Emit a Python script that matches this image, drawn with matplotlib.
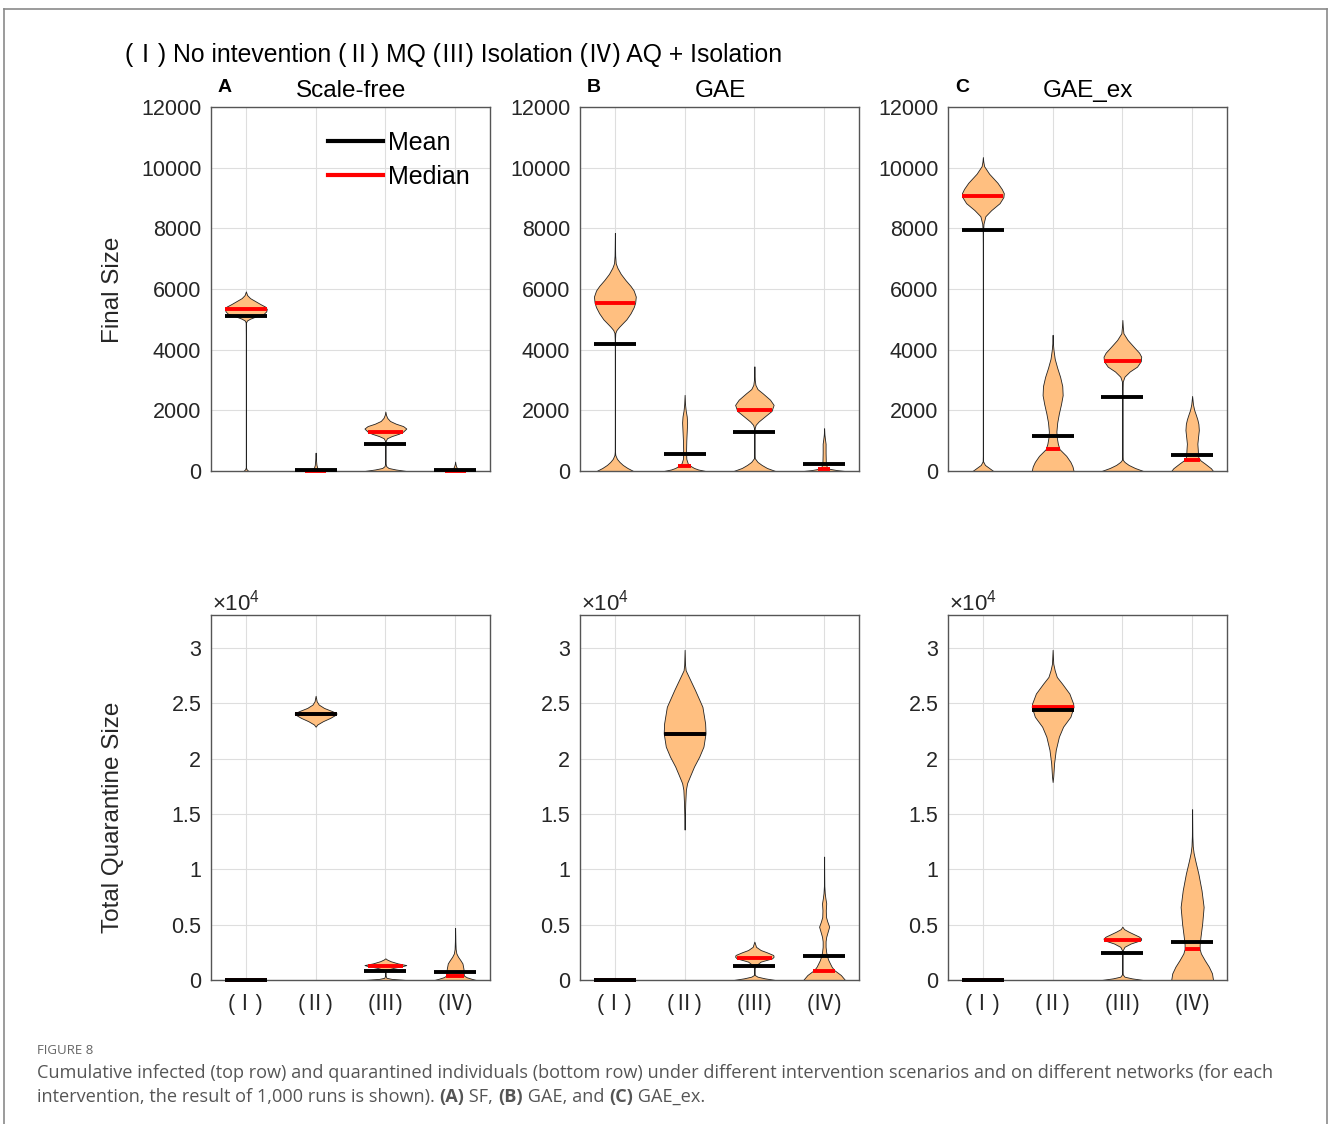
import numpy as np
import matplotlib
matplotlib.use("Agg")
import matplotlib.pyplot as plt
from matplotlib.lines import Line2D
from matplotlib.ticker import FuncFormatter

plt.rcParams['font.family'] = ['Liberation Sans', 'Noto Sans CJK SC', 'DejaVu Sans']
plt.rcParams['mathtext.fontset'] = 'custom'
plt.rcParams['mathtext.rm'] = 'Liberation Sans'

# ---------------- data ----------------
scenario_labels = ['(Ⅰ)', '(Ⅱ)', '(Ⅲ)', '(Ⅳ)']
network_names = ['Scale-free', 'GAE', 'GAE_ex']
panel_letters = ['A', 'B', 'C']
header_text = '(Ⅰ) No intevention (Ⅱ) MQ (Ⅲ) Isolation (Ⅳ) AQ + Isolation'

# Final size (top row): violin profiles as (value levels, relative half-width)
sf_final_levels = [
    [0, 60, 120, 400, 1500, 3000, 4500, 4900, 4960, 5020, 5100, 5180, 5260, 5340, 5420, 5500, 5600, 5700, 5800, 5920],
    [0, 30, 60, 100, 200, 350, 500, 605],
    [0, 50, 100, 160, 250, 500, 800, 1000, 1080, 1150, 1230, 1300, 1400, 1480, 1560, 1650, 1750, 1850, 1960],
    [0, 30, 80, 150, 220, 310],
]
sf_final_widths = [
    [0.12, 0.03, 0.005, 0.004, 0.004, 0.004, 0.005, 0.01, 0.05, 0.2, 0.5, 0.85, 0.97, 1.0, 0.92, 0.7, 0.45, 0.2, 0.06, 0],
    [0.5, 0.45, 0.2, 0.08, 0.04, 0.02, 0.01, 0],
    [1.0, 0.5, 0.15, 0.04, 0.01, 0.006, 0.006, 0.02, 0.08, 0.3, 0.65, 0.85, 1.0, 0.85, 0.5, 0.22, 0.09, 0.03, 0],
    [0.5, 0.3, 0.1, 0.05, 0.02, 0],
]
sf_final_mean = [5100, 40, 880, 20]
sf_final_median = [5350, 0, 1300, 0]

gae_final_levels = [
    [0, 100, 200, 300, 400, 530, 650, 1500, 3000, 4300, 4550, 4650, 4750, 4880, 5000, 5200, 5400, 5550, 5750, 5950, 6100, 6300, 6500, 6700, 6850, 7100, 7400, 7850],
    [0, 50, 100, 160, 250, 400, 700, 1000, 1300, 1600, 1800, 2000, 2200, 2510],
    [0, 100, 200, 300, 420, 600, 1000, 1400, 1520, 1630, 1800, 1980, 2180, 2350, 2560, 2700, 2840, 3000, 3200, 3450],
    [0, 30, 80, 150, 300, 600, 900, 1050, 1200, 1410],
]
gae_final_widths = [
    [0.88, 0.6, 0.38, 0.22, 0.1, 0.02, 0.006, 0.004, 0.004, 0.005, 0.02, 0.08, 0.2, 0.38, 0.55, 0.75, 0.9, 0.97, 1.0, 0.9, 0.75, 0.5, 0.28, 0.12, 0.04, 0.015, 0.008, 0],
    [1.0, 0.65, 0.45, 0.3, 0.15, 0.08, 0.07, 0.08, 0.1, 0.12, 0.1, 0.05, 0.02, 0],
    [1.0, 0.6, 0.35, 0.15, 0.02, 0.006, 0.006, 0.01, 0.06, 0.2, 0.5, 0.82, 0.92, 0.75, 0.4, 0.15, 0.05, 0.02, 0.01, 0],
    [1.0, 0.6, 0.2, 0.12, 0.08, 0.07, 0.07, 0.04, 0.015, 0],
]
gae_final_mean = [4200, 550, 1280, 230]
gae_final_median = [5550, 160, 2000, 70]

gaeex_final_levels = [
    [0, 100, 200, 320, 500, 3000, 6000, 7500, 7900, 8150, 8400, 8600, 8830, 9030, 9160, 9300, 9500, 9800, 10050, 10200, 10350],
    [0, 150, 300, 500, 720, 900, 1100, 1300, 1600, 1900, 2200, 2500, 2800, 3100, 3400, 3700, 4000, 4200, 4490],
    [0, 100, 200, 300, 370, 600, 1500, 2500, 2950, 3110, 3280, 3440, 3620, 3770, 3900, 4050, 4320, 4540, 4750, 4980],
    [0, 90, 250, 350, 450, 540, 700, 900, 1100, 1350, 1550, 1700, 1850, 2010, 2200, 2475],
]
gaeex_final_widths = [
    [0.5, 0.3, 0.1, 0.01, 0.005, 0.004, 0.004, 0.006, 0.01, 0.03, 0.12, 0.4, 0.8, 0.98, 1.0, 0.9, 0.7, 0.3, 0.06, 0.02, 0],
    [1.0, 0.95, 0.85, 0.65, 0.33, 0.25, 0.2, 0.18, 0.22, 0.3, 0.4, 0.48, 0.46, 0.36, 0.22, 0.1, 0.04, 0.015, 0],
    [1.0, 0.6, 0.3, 0.1, 0.02, 0.006, 0.005, 0.006, 0.02, 0.1, 0.35, 0.7, 0.88, 0.9, 0.8, 0.6, 0.25, 0.05, 0.02, 0],
    [1.0, 0.9, 0.6, 0.4, 0.3, 0.28, 0.27, 0.25, 0.28, 0.32, 0.3, 0.25, 0.18, 0.1, 0.04, 0],
]
gaeex_final_mean = [7950, 1170, 2440, 540]
gaeex_final_median = [9050, 720, 3620, 350]

# Total quarantine size (bottom row)
sf_quar_levels = [
    [],
    [22900, 23100, 23400, 23700, 24000, 24100, 24300, 24600, 24900, 25200, 25500, 25700],
    [0, 100, 200, 400, 700, 900, 1100, 1270, 1350, 1500, 1700, 1850, 1960],
    [0, 100, 250, 400, 700, 1000, 1500, 1800, 2100, 2400, 2800, 3500, 4000, 4700],
]
sf_quar_widths = [
    [],
    [0, 0.08, 0.35, 0.7, 0.97, 1.0, 0.8, 0.4, 0.15, 0.05, 0.02, 0],
    [1.0, 0.3, 0.05, 0.01, 0.01, 0.05, 0.4, 0.85, 1.0, 0.6, 0.25, 0.08, 0],
    [1.0, 0.8, 0.55, 0.42, 0.4, 0.4, 0.35, 0.25, 0.14, 0.06, 0.025, 0.012, 0.008, 0],
]
sf_quar_mean = [0, 24050, 850, 700]
sf_quar_median = [0, 24050, 1270, 400]

gae_quar_levels = [
    [],
    [13600, 14500, 16000, 17200, 17800, 18400, 19300, 20200, 21100, 22300, 23200, 24700, 26200, 27400, 28000, 28500, 29850],
    [0, 150, 300, 450, 700, 900, 1100, 1270, 1360, 1660, 1960, 2110, 2260, 2500, 2710, 3000, 3470],
    [0, 450, 900, 1200, 1500, 1810, 2170, 2500, 3000, 3500, 3900, 4300, 4820, 5300, 5700, 6300, 6930, 7400, 7840, 8500, 9500, 11160],
]
gae_quar_widths = [
    [],
    [0, 0.01, 0.03, 0.06, 0.12, 0.25, 0.45, 0.7, 0.9, 1.0, 0.98, 0.85, 0.5, 0.2, 0.05, 0.02, 0],
    [1.0, 0.5, 0.15, 0.02, 0.01, 0.01, 0.02, 0.06, 0.1, 0.3, 0.85, 0.92, 0.9, 0.6, 0.3, 0.08, 0],
    [1.0, 0.8, 0.48, 0.36, 0.28, 0.2, 0.14, 0.1, 0.07, 0.07, 0.1, 0.16, 0.24, 0.15, 0.09, 0.08, 0.1, 0.06, 0.03, 0.01, 0.005, 0],
]
gae_quar_mean = [0, 22250, 1270, 2200]
gae_quar_median = [0, 22250, 1960, 820]

gaeex_quar_levels = [
    [],
    [17900, 18400, 19600, 20800, 22000, 22900, 23800, 24700, 25000, 25900, 26800, 27400, 28000, 28600, 29850],
    [0, 150, 300, 500, 800, 1500, 2400, 2700, 3000, 3300, 3600, 3750, 3920, 4370, 4600, 4820],
    [0, 600, 1200, 1800, 2400, 2800, 3200, 3900, 5100, 6600, 8100, 9600, 10800, 11500, 12100, 13000, 15440],
]
gaeex_quar_widths = [
    [],
    [0, 0.03, 0.07, 0.15, 0.3, 0.5, 0.85, 1.0, 0.98, 0.8, 0.45, 0.2, 0.1, 0.03, 0],
    [1.0, 0.45, 0.1, 0.02, 0.008, 0.006, 0.01, 0.02, 0.1, 0.4, 0.88, 0.9, 0.8, 0.3, 0.08, 0],
    [1.0, 0.95, 0.8, 0.6, 0.42, 0.36, 0.36, 0.4, 0.48, 0.55, 0.45, 0.3, 0.15, 0.07, 0.03, 0.012, 0],
]
gaeex_quar_mean = [0, 24450, 2420, 3470]
gaeex_quar_median = [0, 24700, 3600, 2800]

caption_label = 'FIGURE 8'
caption_line1 = ('Cumulative infected (top row) and quarantined individuals (bottom row) under different '
                 'intervention scenarios and on different networks (for each')
caption_line2_parts = [('intervention, the result of 1,000 runs is shown). ', 'normal'),
                       ('(A)', 'bold'), (' SF, ', 'normal'), ('(B)', 'bold'),
                       (' GAE, and ', 'normal'), ('(C)', 'bold'), (' GAE_ex.', 'normal')]

# ---------------- figure ----------------
W, H = 1328, 1124
fig = plt.figure(figsize=(W / 100, H / 100), dpi=100)

FILL = '#FFBF80'
TXT = '#262626'
HALF = 0.3

def fx(px):
    return px / W

def fy(py):
    return 1 - py / H

top_data = [
    (sf_final_levels, sf_final_widths, sf_final_mean, sf_final_median),
    (gae_final_levels, gae_final_widths, gae_final_mean, gae_final_median),
    (gaeex_final_levels, gaeex_final_widths, gaeex_final_mean, gaeex_final_median),
]
bot_data = [
    (sf_quar_levels, sf_quar_widths, sf_quar_mean, sf_quar_median),
    (gae_quar_levels, gae_quar_widths, gae_quar_mean, gae_quar_median),
    (gaeex_quar_levels, gaeex_quar_widths, gaeex_quar_mean, gaeex_quar_median),
]

lefts = [211, 580, 948]
axw = 279

def draw_violins(ax, levels, widths, means, medians):
    xs = np.arange(1, len(levels) + 1)
    for x, ys, ws, mn, md in zip(xs, levels, widths, means, medians):
        if len(ys):
            ys = np.asarray(ys, float)
            ws = np.asarray(ws, float) * HALF
            ax.fill_betweenx(ys, x - ws, x + ws, facecolor=FILL, edgecolor='#222222',
                             linewidth=0.6, zorder=2)
            mw = np.interp(md, ys, ws)
        else:
            mw = HALF
        ax.plot([x - mw, x + mw], [md, md], color='red', lw=2.8, solid_capstyle='butt',
                zorder=3, clip_on=False)
        ax.plot([x - HALF, x + HALF], [mn, mn], color='black', lw=2.8, solid_capstyle='butt',
                zorder=4, clip_on=False)

def style_axes(ax):
    ax.set_xlim(0.5, 4.5)
    ax.set_xticks([1, 2, 3, 4])
    ax.grid(True, color='#dedede', linewidth=0.8, zorder=0)
    ax.set_axisbelow(True)
    for s in ax.spines.values():
        s.set_color('#555555')
        s.set_linewidth(1.0)
    ax.tick_params(axis='both', direction='in', length=0, colors=TXT, labelsize=15.5, pad=7)

for i in range(3):
    # top row
    ax = fig.add_axes([fx(lefts[i]), fy(471), fx(axw), 364 / H])
    style_axes(ax)
    draw_violins(ax, *top_data[i])
    ax.set_ylim(0, 12000)
    ax.set_yticks(np.arange(0, 12001, 2000))
    ax.set_xticklabels([])
    fig.text(fx(lefts[i] + 140), fy(91), network_names[i], ha='center', va='center',
             fontsize=17.5, color='black')
    fig.text(fx(lefts[i] + 14), fy(87), panel_letters[i], ha='center', va='center',
             fontsize=14, fontweight='bold', color='black')
    if i == 0:
        handles = [Line2D([], [], color='black', lw=3), Line2D([], [], color='red', lw=3)]
        ax.legend(handles, ['Mean', 'Median'], loc='upper left', bbox_to_anchor=(0.42, 0.935),
                  frameon=False, fontsize=18, borderpad=0, borderaxespad=0,
                  handlelength=2.2, handletextpad=0.2, labelspacing=0.42)

    # bottom row
    ax = fig.add_axes([fx(lefts[i]), fy(980), fx(axw), 365 / H])
    style_axes(ax)
    draw_violins(ax, *bot_data[i])
    ax.set_ylim(0, 33000)
    ax.set_yticks(np.arange(0, 30001, 5000))
    ax.yaxis.set_major_formatter(FuncFormatter(lambda v, p: f'{v / 1e4:g}'))
    ax.set_xticklabels(scenario_labels, fontsize=15.5)
    ax.tick_params(axis='x', pad=10)
    fig.text(fx(lefts[i] + 1), fy(603), r'$\times\mathregular{10^{4}}$', ha='left', va='center',
             fontsize=16, color=TXT)

fig.text(fx(113), fy(290), 'Final Size', rotation=90, ha='center', va='center', fontsize=17.5, color=TXT)
fig.text(fx(113), fy(817), 'Total Quarantine Size', rotation=90, ha='center', va='center',
         fontsize=17.5, color=TXT)
fig.text(fx(125), fy(55), header_text, ha='left', va='center', fontsize=17.8, color='black')

# caption
CAP = '#555555'
fig.text(fx(37), fy(1050), caption_label, ha='left', va='center', fontsize=9.5, color='#666666',
         family=['Open Sans'])
fig.text(fx(37), fy(1073), caption_line1, ha='left', va='center', fontsize=13.1, color=CAP,
         family=['Open Sans'])
renderer = fig.canvas.get_renderer()
xpos = 37
for txt, wgt in caption_line2_parts:
    t = fig.text(fx(xpos), fy(1097), txt, ha='left', va='center', fontsize=13.1, color=CAP,
                 family=['Open Sans'], fontweight=wgt)
    bb = t.get_window_extent(renderer=renderer)
    xpos += bb.width

# outer frame
for xs_, ys_ in [([4, 4], [9, 1124]), ([4, 1327], [9, 9]), ([1327, 1327], [9, 1124])]:
    fig.add_artist(Line2D([fx(v) for v in xs_], [fy(v) for v in ys_], color='#8a8a8a', lw=1.2))

fig.savefig('out.png', dpi=100, facecolor='white')
